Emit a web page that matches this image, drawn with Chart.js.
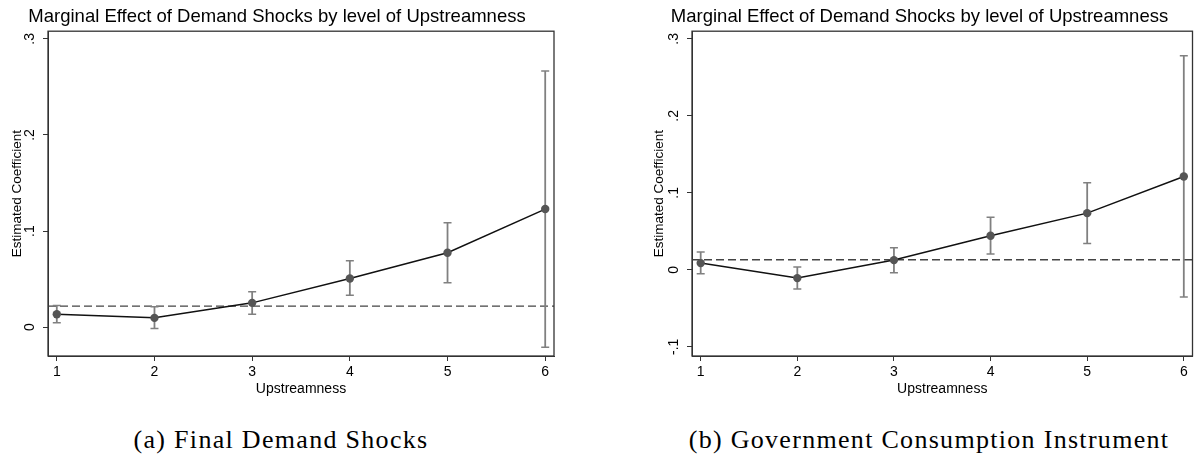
<!DOCTYPE html>
<html lang="en">
<head>
  <meta charset="UTF-8" />
  <title>Marginal Effect of Demand Shocks</title>
  <script src="https://cdn.jsdelivr.net/npm/chart.js"></script>
  <style>
    html, body {
      margin: 0;
      padding: 0;
      background: #fff;
      width: 1198px;
      height: 457px;
      overflow: hidden;
      position: relative;
    }
    canvas { position: absolute; top: 0; }
    #chartA { left: 0; }
    #chartB { left: 642px; }
    .caption {
      position: absolute;
      top: 425px;
      font-family: "Liberation Serif", serif;
      font-size: 26px;
      letter-spacing: 1.3px;
      line-height: 30px;
      color: #000;
      white-space: nowrap;
      transform: translateX(-50%);
    }
  </style>
</head>
<body>
  <canvas id="chartA" width="562" height="400"></canvas>
  <canvas id="chartB" width="556" height="400"></canvas>
  <div class="caption" style="left:281px">(a) Final Demand Shocks</div>
  <div class="caption" style="left:929px">(b) Government Consumption Instrument</div>

  <script>
    const upstreamness = [1, 2, 3, 4, 5, 6];

    // panel (a): final demand shocks
    const coefA = [0.0135, 0.0097, 0.0253, 0.0507, 0.0774, 0.1229];
    const lowA = [0.0045, -0.0014, 0.0135, 0.0333, 0.0462, -0.0208];
    const highA = [0.0226, 0.0212, 0.0368, 0.0691, 0.1087, 0.2667];
    const avgA = 0.0219;
    const yTicksA = [0, 0.1, 0.2, 0.3];

    // panel (b): government consumption instrument
    const coefB = [0.0087, -0.0108, 0.0126, 0.0442, 0.0736, 0.1212];
    const lowB = [-0.0052, -0.0251, -0.0039, 0.0204, 0.0342, -0.0355];
    const highB = [0.0230, 0.0035, 0.0286, 0.0684, 0.1130, 0.2780];
    const avgB = 0.0130;
    const yTicksB = [-0.1, 0, 0.1, 0.2, 0.3];

    const titleText = 'Marginal Effect of Demand Shocks by level of Upstreamness';

    function fmt(v) {
      if (Math.abs(v) < 1e-9) return '0';
      return v.toFixed(1).replace('0.', '.');
    }

    const frame = {
      id: 'frame',
      afterDraw(chart) {
        const a = chart.chartArea;
        const ctx = chart.ctx;
        ctx.save();
        ctx.strokeStyle = '#333';
        ctx.lineWidth = 1.3;
        ctx.strokeRect(a.left, a.top, a.right - a.left, a.bottom - a.top);
        ctx.restore();
      }
    };

    function makeChart(id, coef, low, high, avg, yTicks, yMin, yMax, yWidth, padRight, labelPad) {
      const bars = [];
      upstreamness.forEach((x, i) => {
        bars.push({ x: x, y: low[i] }, { x: x, y: high[i] }, { x: x, y: null });
      });

      return new Chart(document.getElementById(id), {
        type: 'line',
        data: {
          datasets: [
            {
              data: upstreamness.map((x, i) => ({ x: x, y: coef[i] })),
              borderColor: '#111',
              borderWidth: 1.5,
              pointRadius: 4.2,
              pointBackgroundColor: '#555',
              pointBorderColor: '#555',
              pointBorderWidth: 0
            },
            {
              data: bars,
              borderColor: '#808080',
              borderWidth: 1.8,
              spanGaps: false,
              pointStyle: 'line',
              pointRadius: 4,
              pointBorderColor: '#808080',
              pointBorderWidth: 1.5
            },
            {
              data: [{ x: 0.91, y: avg }, { x: 6.09, y: avg }],
              borderColor: '#444',
              borderWidth: 1.4,
              borderDash: [8, 4],
              pointRadius: 0
            }
          ]
        },
        options: {
          responsive: false,
          animation: false,
          layout: { padding: { left: 0, right: padRight, top: 0, bottom: 0 } },
          plugins: {
            legend: { display: false },
            tooltip: { enabled: false },
            title: {
              display: true,
              text: titleText,
              color: '#000',
              font: { family: 'Arial, "Liberation Sans"', size: 18.5, weight: 'normal' },
              padding: { top: 6, bottom: 3 }
            }
          },
          scales: {
            x: {
              type: 'linear',
              min: 0.91,
              max: 6.09,
              afterBuildTicks: s => { s.ticks = upstreamness.map(v => ({ value: v })); },
              afterFit: s => { s.height = 44; },
              grid: { drawOnChartArea: false, drawTicks: true, tickLength: 5, color: '#333' },
              border: { display: true, color: '#333' },
              ticks: {
                color: '#000',
                padding: 3,
                font: { family: 'Arial, "Liberation Sans"', size: 14 },
                maxRotation: 0
              },
              title: {
                display: true,
                text: 'Upstreamness',
                color: '#000',
                font: { family: 'Arial, "Liberation Sans"', size: 14 },
                padding: { top: 0, bottom: 2 }
              }
            },
            y: {
              min: yMin,
              max: yMax,
              afterBuildTicks: s => { s.ticks = yTicks.map(v => ({ value: v })); },
              afterFit: s => { s.width = yWidth; },
              grid: { drawOnChartArea: false, drawTicks: true, tickLength: 5, color: '#333' },
              border: { display: true, color: '#333' },
              ticks: {
                color: '#000',
                padding: labelPad,
                minRotation: 90,
                maxRotation: 90,
                crossAlign: 'center',
                font: { family: 'Arial, "Liberation Sans"', size: 14 },
                callback: v => fmt(v)
              },
              title: {
                display: true,
                text: 'Estimated Coefficient',
                color: '#000',
                font: { family: 'Arial, "Liberation Sans"', size: 13.5 },
                padding: { top: 9, bottom: 0 }
              }
            }
          }
        },
        plugins: [frame]
      });
    }

    makeChart('chartA', coefA, lowA, highA, avgA, yTicksA, -0.030, 0.308, 48, 8, 7);
    makeChart('chartB', coefB, lowB, highB, avgB, yTicksB, -0.112, 0.310, 50, 1, 5);
  </script>
</body>
</html>
